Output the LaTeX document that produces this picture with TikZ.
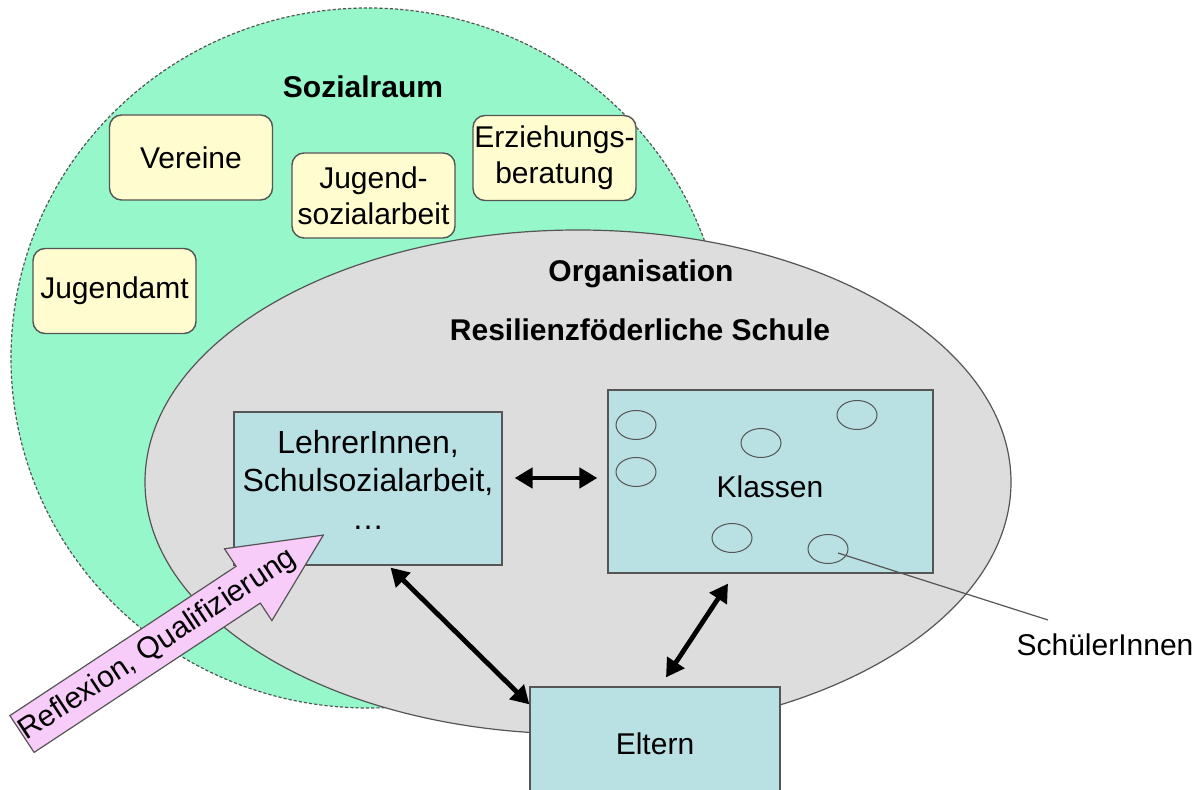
\documentclass[tikz,border=0pt]{standalone}
\usepackage{fontspec}
\setmainfont{Liberation Sans}
\usetikzlibrary{shapes.geometric,arrows.meta,calc}
\definecolor{mint}{RGB}{150,248,202}
\definecolor{paleyellow}{RGB}{255,252,208}
\definecolor{lightgrey}{RGB}{221,221,221}
\definecolor{paleblue}{RGB}{185,224,227}
\definecolor{palepink}{RGB}{248,204,248}
\definecolor{edge}{RGB}{85,85,85}
\begin{document}
\begin{tikzpicture}[x=0.5pt,y=-0.5pt,
  lbl/.style={font=\fontsize{15pt}{18pt}\selectfont, align=center, inner sep=0pt},
  boldlbl/.style={font=\fontsize{15pt}{18pt}\selectfont\bfseries, align=center, inner sep=0pt},
  ybox/.style={draw=edge, line width=0.7pt, fill=paleyellow, rounded corners=6pt,
    minimum width=81.5pt, minimum height=42.5pt, align=center, inner sep=0pt,
    font=\fontsize{15pt}{18pt}\selectfont},
  bbox/.style={draw=edge, line width=0.6pt, fill=paleblue, inner sep=0pt,
    font=\fontsize{15pt}{18pt}\selectfont},
  pupil/.style={ellipse, draw=edge, line width=0.5pt, minimum width=20pt,
    minimum height=14.5pt, inner sep=0pt},
  link/.style={line width=2.4pt, {Triangle[length=9pt,width=10pt]}-{Triangle[length=9pt,width=10pt]}},
  thinline/.style={draw=edge, line width=0.6pt},
]
\useasboundingbox (0,0) rectangle (1200,790);
\clip (0,0) rectangle (1200,790);

% Sozialraum
\node[ellipse, draw=edge, line width=0.6pt, dash pattern=on 1.6pt off 1pt, fill=mint,
  minimum width=357pt, minimum height=350pt, inner sep=0pt] (sozial) at (368,358) {};
\node[boldlbl] (sozialT) at (363,87) {Sozialraum};
\node[ybox] (vereine) at (191,157.5) {Vereine};
\node[ybox] (jsa) at (373.5,195.5) {Jugend-\\sozialarbeit};
\node[ybox] (erz) at (554.5,158) {Erziehungs-\\beratung};
\node[ybox] (amt) at (114.5,291) {Jugendamt};

% Schule
\node[ellipse, draw=edge, line width=0.6pt, fill=lightgrey,
  minimum width=433pt, minimum height=252pt, inner sep=0pt] (schule) at (578,482) {};
\node[boldlbl] (orgT) at (641,274) {Organisation};
\node[boldlbl] (resT) at (640,330) {Resilienzföderliche Schule};

% Boxes
\node[bbox, minimum width=134pt, minimum height=76.5pt] (leh) at (368,488.5) {};
\node[lbl, font=\fontsize{16pt}{19pt}\selectfont] (lehT) at (368,480) {LehrerInnen,\\Schulsozialarbeit,\\…};
\node[bbox, minimum width=162.5pt, minimum height=91.5pt] (kl) at (770.5,481.5) {};
\node[lbl] (klT) at (770,487) {Klassen};
\node[pupil] (p1) at (636,425) {};
\node[pupil] (p2) at (636,472) {};
\node[pupil] (p3) at (761,443) {};
\node[pupil] (p4) at (857,415) {};
\node[pupil] (p5) at (732,538) {};
\node[pupil] (p6) at (828,549) {};
\node[bbox, minimum width=125pt, minimum height=56.5pt] (elt) at (655,743.5) {Eltern};

% Schueler label
\node[lbl] (sch) at (1105,645) {SchülerInnen};
\coordinate (schEnd) at (1048,620);
\draw[thinline] ([shift={(10,4)}]p6.center) -- (schEnd);

% Connectors
\draw[link] ([shift={(12,-10.5)}]leh.east) -- ([shift={(-10,-3.5)}]kl.west);
\draw[link] ([shift={(22.5,2)}]leh.south) -- ([shift={(0,18)}]elt.north west);
\draw[link] ([shift={(-42.5,10)}]kl.south) -- ([shift={(11,-9)}]elt.north);

% Pink block arrow
\draw[draw=edge, line width=0.6pt, fill=palepink] (9.9,715.6) -- (236.1,566.3) -- (224.5,548.8)
  -- (323.3,535.1) -- (271.9,620.6) -- (260.3,603.1) -- (34.1,752.4) -- cycle;
\node[lbl, rotate=33.4] (refl) at (158,645) {Reflexion, Qualifizierung};
\end{tikzpicture}
\end{document}
